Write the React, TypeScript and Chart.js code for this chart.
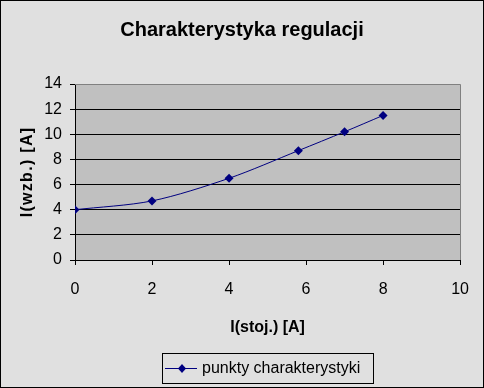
import React, { useEffect, useRef } from 'react';
import { Chart, registerables } from 'chart.js';

Chart.register(...registerables);

const chartTitle = 'Charakterystyka regulacji';
const xAxisTitle = 'I(stoj.) [A]';
const yAxisTitle = 'I(wzb.) [A]';
const seriesLabel = 'punkty charakterystyki';

const xValues = [0, 2, 4, 5.8, 7, 8];
const yValues = [4.0, 4.7, 6.5, 8.7, 10.2, 11.5];

const xMin = 0, xMax = 10, xStep = 2;
const yMin = 0, yMax = 14, yStep = 2;

const FONT = '"Liberation Sans", Arial, sans-serif';
const LINE_COLOR = '#000080';

const decorPlugin = {
  id: 'decor',
  afterLayout(chart: any) {
    const t = chart.titleBlock;
    if (t) {
      t.left = 0;
      t.right = chart.width;
      t.width = chart.width;
    }
  },
  beforeDraw(chart: any) {
    const { ctx, chartArea: a, width, height } = chart;
    ctx.save();
    ctx.fillStyle = '#e0e0e0';
    ctx.fillRect(0, 0, width, height);
    ctx.fillStyle = '#c0c0c0';
    ctx.fillRect(a.left, a.top, a.right - a.left, a.bottom - a.top);
    ctx.restore();
  },
  beforeDatasetsDraw(chart: any) {
    const { ctx, chartArea: a } = chart;
    ctx.save();
    ctx.strokeStyle = '#808080';
    ctx.lineWidth = 1;
    ctx.beginPath();
    ctx.moveTo(a.left, Math.round(a.top) + 0.5);
    ctx.lineTo(Math.round(a.right) + 0.5, Math.round(a.top) + 0.5);
    ctx.lineTo(Math.round(a.right) + 0.5, a.bottom);
    ctx.stroke();
    ctx.restore();
  },
  afterDraw(chart: any) {
    const { ctx, chartArea: a, width, height } = chart;
    ctx.save();
    // outer border
    ctx.strokeStyle = '#000';
    ctx.lineWidth = 1;
    ctx.strokeRect(0.5, 0.5, width - 1, height - 1);

    // legend
    ctx.font = '16px ' + FONT;
    const tw = ctx.measureText(seriesLabel).width;
    const boxW = Math.round(53 + tw);
    const cx = (a.left + a.right) / 2;
    const bx = Math.round(cx - boxW / 2);
    const by = 353;
    const bh = 30;
    ctx.fillStyle = '#e0e0e0';
    ctx.fillRect(bx, by, boxW, bh);
    ctx.strokeStyle = '#000';
    ctx.strokeRect(bx + 0.5, by + 0.5, boxW, bh);
    const ly = by + 15.5;
    ctx.strokeStyle = LINE_COLOR;
    ctx.beginPath();
    ctx.moveTo(bx + 3, ly);
    ctx.lineTo(bx + 35, ly);
    ctx.stroke();
    const mx = bx + 20;
    const r = 4.5;
    ctx.fillStyle = LINE_COLOR;
    ctx.beginPath();
    ctx.moveTo(mx, ly - r);
    ctx.lineTo(mx + r - 0.5, ly);
    ctx.lineTo(mx, ly + r);
    ctx.lineTo(mx - r + 0.5, ly);
    ctx.closePath();
    ctx.fill();
    ctx.fillStyle = '#000';
    ctx.textBaseline = 'middle';
    ctx.textAlign = 'left';
    ctx.fillText(seriesLabel, bx + 40, ly);
    ctx.restore();
  },
};

export default function App() {
  const ref = useRef<HTMLCanvasElement | null>(null);

  useEffect(() => {
    document.body.style.margin = '0';
    const canvas = ref.current;
    if (!canvas) return;
    const points = xValues.map((x, i) => ({ x, y: yValues[i] }));
    const chart = new Chart(canvas, {
      type: 'scatter',
      data: {
        datasets: [
          {
            label: seriesLabel,
            data: points,
            showLine: true,
            borderColor: LINE_COLOR,
            backgroundColor: LINE_COLOR,
            borderWidth: 1,
            tension: 0.3,
            pointStyle: 'rectRot',
            pointRadius: 4.5,
            pointBorderWidth: 0,
            pointBackgroundColor: LINE_COLOR,
          },
        ],
      },
      options: {
        animation: false,
        responsive: false,
        devicePixelRatio: 1,
        layout: { padding: { left: 0, right: 22, top: 0, bottom: 43 } },
        plugins: {
          legend: { display: false },
          tooltip: { enabled: false },
          title: {
            display: true,
            text: chartTitle,
            color: '#000',
            font: { family: FONT, size: 20, weight: 'bold' },
            padding: { top: 18, bottom: 42 },
          },
        },
        scales: {
          x: {
            type: 'linear',
            min: xMin,
            max: xMax,
            afterFit: (s: any) => { s.height = 85; },
            ticks: {
              stepSize: xStep,
              color: '#000',
              padding: 15,
              maxRotation: 0,
              font: { family: FONT, size: 16 },
            },
            grid: {
              drawOnChartArea: false,
              drawTicks: true,
              tickLength: 5,
              color: '#000',
              tickColor: '#000',
            },
            border: { display: true, color: '#000', width: 1 },
            title: {
              display: true,
              text: xAxisTitle,
              color: '#000',
              font: { family: FONT, size: 16, weight: 'bold' },
              padding: { top: 0, bottom: 8 },
            },
          },
          y: {
            type: 'linear',
            min: yMin,
            max: yMax,
            afterFit: (s: any) => { s.width = 75; },
            ticks: {
              stepSize: yStep,
              color: '#000',
              padding: 8,
              font: { family: FONT, size: 16 },
            },
            grid: {
              drawOnChartArea: true,
              drawTicks: true,
              tickLength: 5,
              color: (c: any) => (c.tick && c.tick.value === yMax ? '#808080' : '#000'),
              tickColor: '#000',
            },
            border: { display: true, color: '#000', width: 1 },
            title: {
              display: true,
              text: yAxisTitle,
              color: '#000',
              font: { family: FONT, size: 16, weight: 'bold' },
              padding: { top: 18, bottom: 0 },
            },
          },
        },
      },
      plugins: [decorPlugin],
    } as any);

    // letter-spaced rotated y-axis title, as in the original
    const ys: any = chart.scales.y;
    if (ys && ys.drawTitle) {
      const orig = ys.drawTitle.bind(ys);
      ys.drawTitle = () => {
        const ctx: any = chart.ctx;
        const prev = ctx.letterSpacing;
        ctx.letterSpacing = '1.3px';
        orig();
        ctx.letterSpacing = prev || '0px';
      };
      chart.draw();
    }

    return () => chart.destroy();
  }, []);

  return (
    <div style={{ position: 'absolute', left: 0, top: 0, width: 484, height: 388 }}>
      <canvas ref={ref} width={484} height={388} style={{ display: 'block' }} />
    </div>
  );
}
